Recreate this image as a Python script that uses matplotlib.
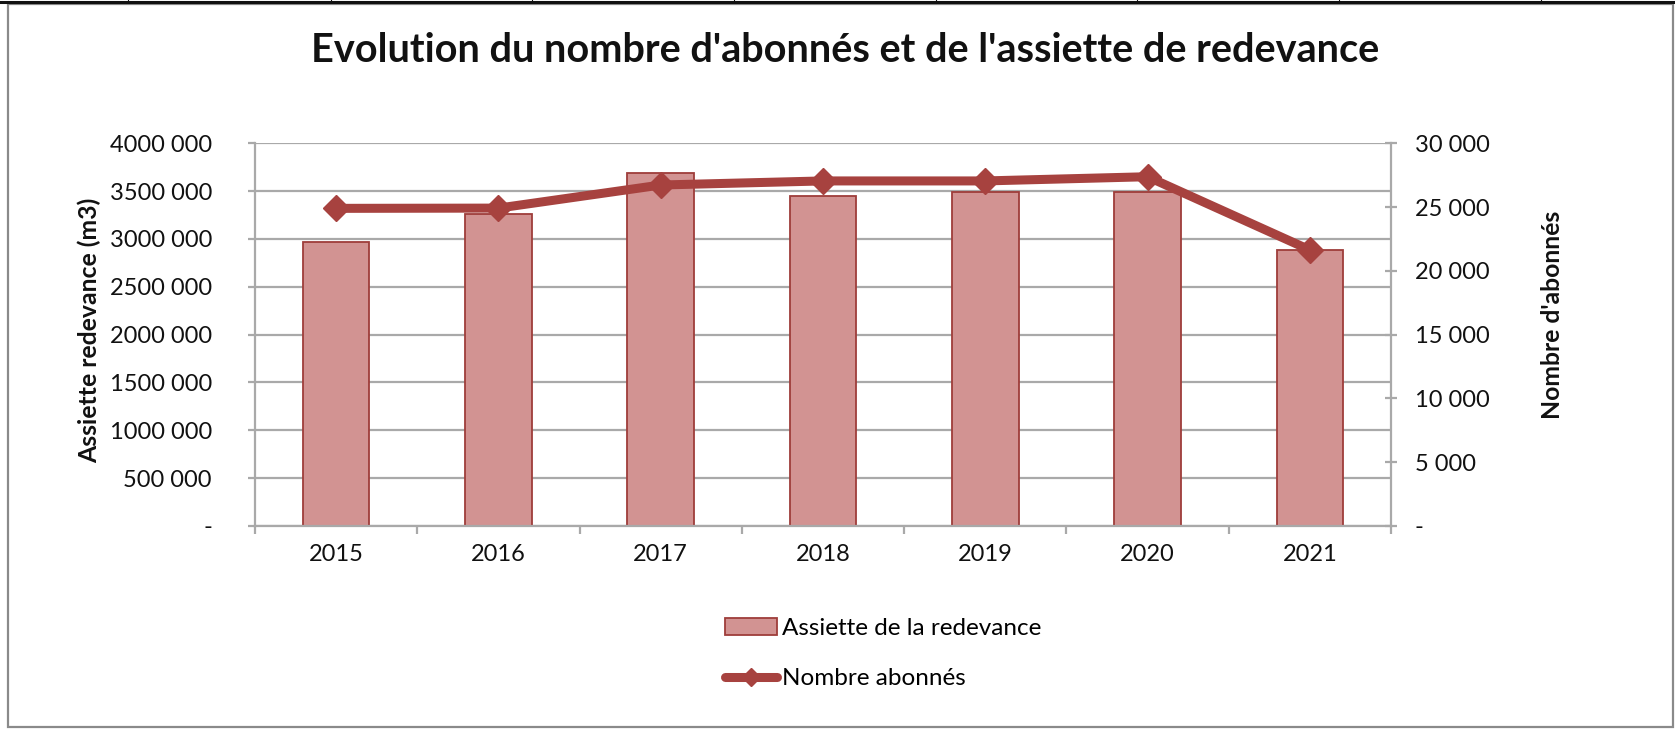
import matplotlib
matplotlib.use("Agg")
import matplotlib.pyplot as plt
from matplotlib.lines import Line2D
from matplotlib.patches import Rectangle
import numpy as np

plt.rcParams['font.family'] = ['Lato', 'DejaVu Sans']

years = ["2015", "2016", "2017", "2018", "2019", "2020", "2021"]
assiette = [2965000, 3265000, 3690000, 3447000, 3495000, 3492000, 2888000]
abonnes = [24900, 24920, 26730, 27050, 27050, 27380, 21640]

left_ticks = [0, 500000, 1000000, 1500000, 2000000, 2500000, 3000000, 3500000, 4000000]
left_labels = ["-", "500 000", "1000 000", "1500 000", "2000 000", "2500 000",
               "3000 000", "3500 000", "4000 000"]
right_ticks = [0, 5000, 10000, 15000, 20000, 25000, 30000]
right_labels = ["-", "5 000", "10 000", "15 000", "20 000", "25 000", "30 000"]

title = "Evolution du nombre d'abonnés et de l'assiette de redevance"
ylabel_left = "Assiette redevance (m3)"
ylabel_right = "Nombre d'abonnés"
legend_bar = "Assiette de la redevance"
legend_line = "Nombre abonnés"

W, H = 1675, 730
BAR_FACE = "#D29392"
BAR_EDGE = "#9E3D3A"
LINE_COL = "#A7423F"
GRID_COL = "#A9A9A9"
TXT = "#111111"
FS = 17

fig = plt.figure(figsize=(W / 100, H / 100), dpi=100)
fig.patch.set_facecolor("white")

x0, x1, y0, y1 = 255, 1391, 143.3, 526
ax = fig.add_axes([x0 / W, 1 - y1 / H, (x1 - x0) / W, (y1 - y0) / H])
x = np.arange(len(years))

ax.bar(x, assiette, width=0.41, color=BAR_FACE, edgecolor=BAR_EDGE, linewidth=1.3, zorder=2)
ax.set_xlim(-0.5, len(years) - 0.5)
ax.set_ylim(0, 4000000)
ax.set_yticks(left_ticks)
ax.set_yticklabels(left_labels)
ax.yaxis.grid(True, color=GRID_COL, linewidth=1.6)
ax.set_axisbelow(True)

ax.set_xticks(x)
ax.set_xticklabels(years)
ax.set_xticks(np.arange(-0.5, len(years)), minor=True)
ax.tick_params(axis="x", which="major", length=0, pad=13, labelsize=FS, labelcolor=TXT)
ax.tick_params(axis="x", which="minor", length=6, width=1.6, color=GRID_COL, direction="out")
ax.tick_params(axis="y", length=5, width=1.6, color=GRID_COL, pad=26, labelsize=FS, labelcolor=TXT)

for s in ("top", "right"):
    ax.spines[s].set_visible(False)
for s in ("left", "bottom"):
    ax.spines[s].set_color(GRID_COL)
    ax.spines[s].set_linewidth(1.6)

ax2 = ax.twinx()
ax2.plot(x, abonnes, color=LINE_COL, linewidth=6.5, marker="D", markersize=13,
         solid_joinstyle="round", zorder=3)
ax2.set_ylim(0, 30000)
ax2.set_yticks(right_ticks)
ax2.set_yticklabels(right_labels)
ax2.tick_params(axis="y", length=8, width=1.6, color=GRID_COL, pad=13, labelsize=FS,
                labelcolor=TXT, direction="inout")
for s in ("top", "left", "bottom"):
    ax2.spines[s].set_visible(False)
ax2.spines["right"].set_color(GRID_COL)
ax2.spines["right"].set_linewidth(1.6)

fig.text(845 / W, 1 - 50 / H, title, ha="center", va="center", fontsize=28.5,
         fontweight="bold", color=TXT)
fig.text(89 / W, 1 - 330 / H, ylabel_left, ha="center", va="center", rotation=90,
         fontsize=17.8, fontweight="bold", color=TXT)
fig.text(1552 / W, 1 - 315 / H, ylabel_right, ha="center", va="center", rotation=90,
         fontsize=17.8, fontweight="bold", color=TXT)

h_bar = Rectangle((0, 0), 1, 1, facecolor=BAR_FACE, edgecolor=BAR_EDGE, linewidth=1.3)
h_line = Line2D([], [], color=LINE_COL, linewidth=6.5, marker="D", markersize=9,
                solid_capstyle="round")
fig.legend([h_bar, h_line], [legend_bar, legend_line], loc="upper left",
           bbox_to_anchor=(725 / W, 1 - 618 / H), frameon=False, fontsize=17.5,
           handlelength=2.15, handletextpad=0.2, labelspacing=1.2,
           borderpad=0, borderaxespad=0)

# sheet decorations: header rule and chart frame
fig.add_artist(Line2D([0, 1], [1 - 2 / H, 1 - 2 / H], transform=fig.transFigure,
                      color="#111111", linewidth=2.2))
for cx in (128, 331, 532, 734, 936, 1137, 1339, 1541):
    fig.add_artist(Line2D([cx / W, cx / W], [1 - 1.5 / H, 1], transform=fig.transFigure,
                          color="#111111", linewidth=0.8))
fig.add_artist(Rectangle((7.5 / W, 3 / H), (1673 - 7.5) / W, (727 - 4) / H,
                         transform=fig.transFigure, fill=False, edgecolor="#8A8A8A",
                         linewidth=1.6))

fig.savefig("out.png", dpi=100, facecolor="white")
